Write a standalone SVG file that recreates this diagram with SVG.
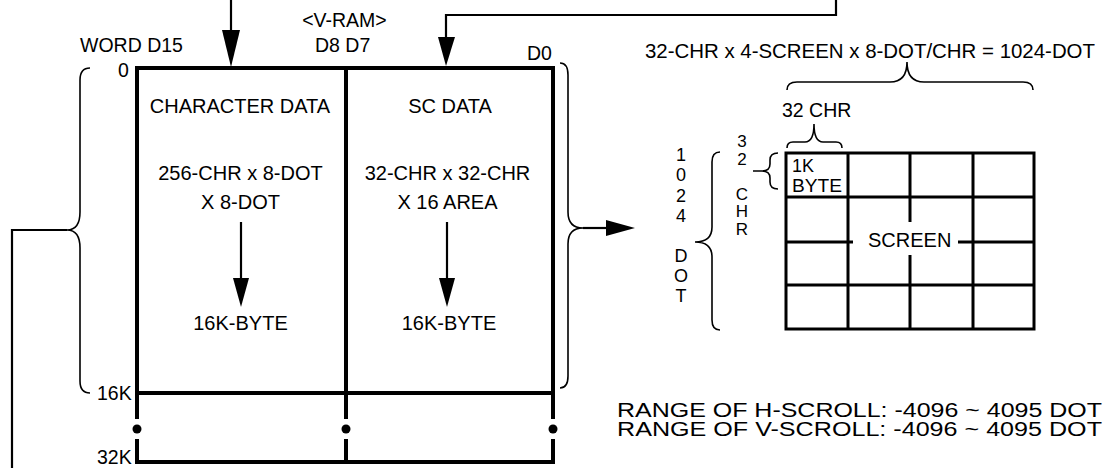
<svg xmlns="http://www.w3.org/2000/svg" width="1113" height="468" viewBox="0 0 1113 468">
<style>
text{font-family:"Liberation Sans",Arial,Helvetica,sans-serif;fill:#000}
.t20{font-size:20px}
.t19{font-size:19.5px}
.t18{font-size:18px}
.t17{font-size:17px}
.c{text-anchor:middle}
.rng{font-size:20.5px}
.box{fill:none;stroke:#000;stroke-width:4}
.grid{fill:none;stroke:#000;stroke-width:3}
.brace{fill:none;stroke:#000;stroke-width:1.6}
.wire{fill:none;stroke:#000;stroke-width:2.2}
.head{fill:#000;stroke:none}
</style>
<rect width="1113" height="468" fill="#fff"/>

<g id="header-labels">
  <text class="t19" x="344.5" y="27" text-anchor="middle">&lt;V-RAM&gt;</text>
  <text class="t19" x="80" y="52">WORD D15</text>
  <text class="t19" x="315" y="52">D8 D7</text>
  <text class="t19" x="527" y="60">D0</text>
  <text class="t19" x="118" y="77">0</text>
  <text class="t19" x="97" y="400">16K</text>
  <text class="t19" x="97" y="464">32K</text>
</g>

<g id="vram-box">
  <path class="box" d="M137,393 V68 H553 V393 Z"/>
  <line class="box" x1="346" y1="68" x2="346" y2="393"/>
  <path class="box" d="M137,393 V419 M346,393 V419 M553,393 V419 M137,439 V462 H553 V439 M346,439 V462"/>
  <circle cx="137" cy="429" r="4.5"/>
  <circle cx="346" cy="429" r="4.5"/>
  <circle cx="553" cy="429" r="4.5"/>
</g>

<g id="character-data">
  <text class="t20 c" x="240" y="113">CHARACTER DATA</text>
  <text class="t20 c" x="240.5" y="180">256-CHR x 8-DOT</text>
  <text class="t20 c" x="240.5" y="209">X 8-DOT</text>
  <text class="t20 c" x="240.5" y="330">16K-BYTE</text>
</g>

<g id="sc-data">
  <text class="t20 c" x="450" y="113">SC DATA</text>
  <text class="t20 c" x="447.5" y="180">32-CHR x 32-CHR</text>
  <text class="t20 c" x="447.5" y="209">X 16 AREA</text>
  <text class="t20 c" x="449" y="330">16K-BYTE</text>
</g>

<g id="screen-map">
  <text class="t19" x="645" y="58" textLength="450" lengthAdjust="spacingAndGlyphs">32-CHR x 4-SCREEN x 8-DOT/CHR = 1024-DOT</text>
  <path class="brace" d="M787,90 Q787,82 797,82 L890,82 Q907,82 907,62 Q907,82 924,82 L1023,82 Q1033,82 1033,90"/>
  <text class="t19" x="782" y="117">32 CHR</text>
  <path class="brace" d="M787,148 Q787,142 793,142 L805,142 Q814,142 814,124 Q814,142 823,142 L836,142 Q842,142 842,148"/>
  <g class="t18 c">
    <text x="681" y="161">1</text>
    <text x="681" y="181">0</text>
    <text x="681" y="202">2</text>
    <text x="681" y="222">4</text>
    <text x="681" y="262">D</text>
    <text x="681" y="282">O</text>
    <text x="681" y="302">T</text>
  </g>
  <g class="t17 c">
    <text x="742" y="147">3</text>
    <text x="742" y="165">2</text>
    <text x="742" y="200">C</text>
    <text x="742" y="217">H</text>
    <text x="742" y="235">R</text>
  </g>
  <path class="brace" d="M720,152 Q712,152 712,162 L712,227 Q712,242 695,242 Q712,242 712,257 L712,320 Q712,330 720,330"/>
  <path class="brace" d="M778,153 Q770,153 770,160 L770,164 Q770,171 762,171 Q770,171 770,178 L770,182 Q770,189 778,189 M753,171 H762"/>
  <rect class="grid" x="786" y="153" width="248" height="176"/>
  <path class="grid" d="M848,153 V329 M973,153 V329 M910,153 V222 M910,255 V329 M786,197 H1034 M786,285 H1034 M786,242 H853 M958,242 H1034"/>
  <text class="t18" x="792" y="172">1K</text>
  <text class="t18" x="792" y="192" textLength="50" lengthAdjust="spacingAndGlyphs">BYTE</text>
  <text class="t20" x="868" y="247">SCREEN</text>
</g>

<g id="scroll-range">
  <text class="rng" x="617" y="417" textLength="485" lengthAdjust="spacingAndGlyphs">RANGE OF H-SCROLL: -4096 ~ 4095 DOT</text>
  <text class="rng" x="617" y="436" textLength="485" lengthAdjust="spacingAndGlyphs">RANGE OF V-SCROLL: -4096 ~ 4095 DOT</text>
</g>

<g id="connectors">
  <line class="wire" x1="231" y1="0" x2="231" y2="32"/>
  <polygon class="head" points="222,30 240,30 231,67"/>
  <polyline class="wire" points="836,0 836,15 446,15 446,39"/>
  <polygon class="head" points="438,37 455,37 446,66"/>
  <line class="wire" x1="241" y1="222" x2="241" y2="280"/>
  <polygon class="head" points="233,278 249,278 241,307"/>
  <line class="wire" x1="447" y1="222" x2="447" y2="280"/>
  <polygon class="head" points="439,278 455,278 447,307"/>
  <path class="brace" d="M90,68 Q80,68 80,80 L80,212 Q80,230 67,230 Q80,230 80,248 L80,381 Q80,393 90,393"/>
  <polyline class="wire" points="67,230 12,230 12,468"/>
  <path class="brace" d="M560,63 Q568,63 568,75 L568,212 Q568,228 583,228 Q568,228 568,244 L568,376 Q568,388 560,388"/>
  <line class="wire" x1="583" y1="228" x2="608" y2="228"/>
  <polygon class="head" points="606,220 606,236 635,228"/>
</g>
</svg>
